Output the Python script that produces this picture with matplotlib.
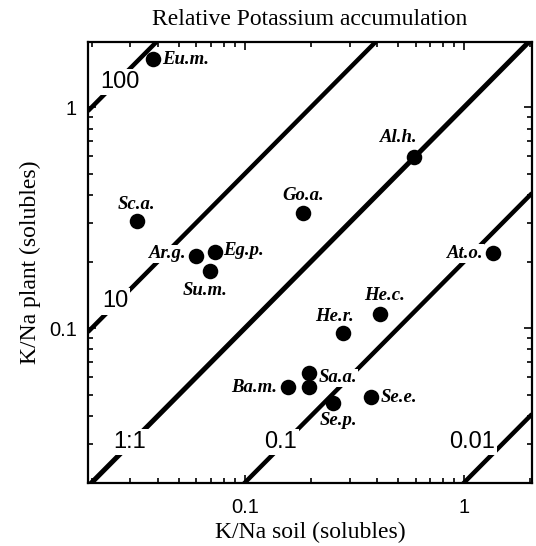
import matplotlib.pyplot as plt
from matplotlib.ticker import LogLocator, NullFormatter, FixedLocator, FixedFormatter

# species data (K/Na ratios of soluble fractions)
species = ["Eu.m.", "Sc.a.", "Go.a.", "Al.h.", "At.o.", "Ar.g.", "Eg.p.", "Su.m.",
           "Ba.m.", "Sa.a.", "", "Se.p.", "Se.e.", "He.r.", "He.c."]
k_na_soil = [0.038, 0.032, 0.184, 0.59, 1.36, 0.060, 0.073, 0.069,
             0.157, 0.196, 0.196, 0.252, 0.376, 0.28, 0.413]
k_na_plant = [1.65, 0.305, 0.331, 0.594, 0.218, 0.212, 0.221, 0.181,
              0.054, 0.0626, 0.054, 0.0458, 0.0487, 0.095, 0.116]

# reference lines plant = ratio * soil, as drawn in the figure
line_ratios = [50, 5, 1, 0.2, 0.02]
line_labels = ["100", "10", "1:1", "0.1", "0.01"]

# label placement: (offset in points, horizontal alignment)
label_style = {
    "Eu.m.": ((7, 0), "left"),
    "Sc.a.": ((0, 12), "center"),
    "Go.a.": ((0, 12.5), "center"),
    "Al.h.": ((-11, 14), "center"),
    "At.o.": ((-7, 0), "right"),
    "Ar.g.": ((-7, 1.5), "right"),
    "Eg.p.": ((6, 1), "left"),
    "Su.m.": ((-3, -14), "center"),
    "Ba.m.": ((-8, 0), "right"),
    "Sa.a.": ((7, -3.5), "left"),
    "Se.p.": ((4, -12.5), "center"),
    "Se.e.": ((7, 0), "left"),
    "He.r.": ((-6, 12), "center"),
    "He.c.": ((3, 13), "center"),
}

xlim = (0.0192, 2.04)
ylim = (0.0199, 1.97)

fig = plt.figure(figsize=(5.36, 5.46), dpi=100)
ax = fig.add_axes([0.164, 0.1154, 0.8286, 0.8076])
ax.set_xscale("log")
ax.set_yscale("log")
ax.set_xlim(*xlim)
ax.set_ylim(*ylim)

# ratio lines
for r in line_ratios:
    lw = 3.6 if r == 1 else 3.2
    ax.plot([xlim[0], xlim[1]], [r * xlim[0], r * xlim[1]], color="black",
            lw=lw, solid_capstyle="butt", zorder=2)

# labels of the ratio lines (white box breaks the line)
line_label_pos = [(0.0269, 1.30), (0.0255, 0.132), (0.0299, 0.0305),
                  (0.1445, 0.0305), (1.088, 0.0305)]
for (lx, ly), txt in zip(line_label_pos, line_labels):
    ax.text(lx, ly, txt, fontsize=17, family="Liberation Sans", ha="center",
            va="center", zorder=3,
            bbox=dict(facecolor="white", edgecolor="none", pad=1.5))

# points
ax.scatter(k_na_soil, k_na_plant, s=125, color="black", zorder=5,
           linewidths=0)

for name, x, y in zip(species, k_na_soil, k_na_plant):
    if not name:
        continue
    off, ha = label_style[name]
    ax.annotate(name, (x, y), xytext=off, textcoords="offset points",
                ha=ha, va="center", fontsize=13.5, family="Liberation Serif",
                fontweight="bold", fontstyle="italic", zorder=4,
                bbox=dict(facecolor="white", edgecolor="none", pad=0.5))

# axes styling
for sp in ax.spines.values():
    sp.set_linewidth(1.6)
ax.xaxis.set_major_locator(FixedLocator([0.1, 1]))
ax.xaxis.set_major_formatter(FixedFormatter(["0.1", "1"]))
ax.yaxis.set_major_locator(FixedLocator([0.1, 1]))
ax.yaxis.set_major_formatter(FixedFormatter(["0.1", "1"]))
ax.xaxis.set_minor_locator(LogLocator(base=10, subs=range(2, 10)))
ax.yaxis.set_minor_locator(LogLocator(base=10, subs=range(2, 10)))
ax.xaxis.set_minor_formatter(NullFormatter())
ax.yaxis.set_minor_formatter(NullFormatter())
ax.tick_params(which="both", direction="in", top=True, right=True, width=1.2)
ax.tick_params(which="major", length=6)
ax.tick_params(which="minor", length=3.5)
ax.tick_params(axis="x", which="major", pad=11)
ax.tick_params(axis="y", which="major", pad=8)
for lab in ax.get_xticklabels() + ax.get_yticklabels():
    lab.set_family("Liberation Sans")
    lab.set_fontsize(14.5)

ax.set_title("Relative Potassium accumulation", family="Liberation Serif",
             fontsize=17, pad=12)
ax.set_xlabel("K/Na soil (solubles)", family="Liberation Serif", fontsize=17,
              labelpad=3)
ax.set_ylabel("K/Na plant (solubles)", family="Liberation Serif", fontsize=17,
              labelpad=6)

fig.savefig("out.png", dpi=100)
